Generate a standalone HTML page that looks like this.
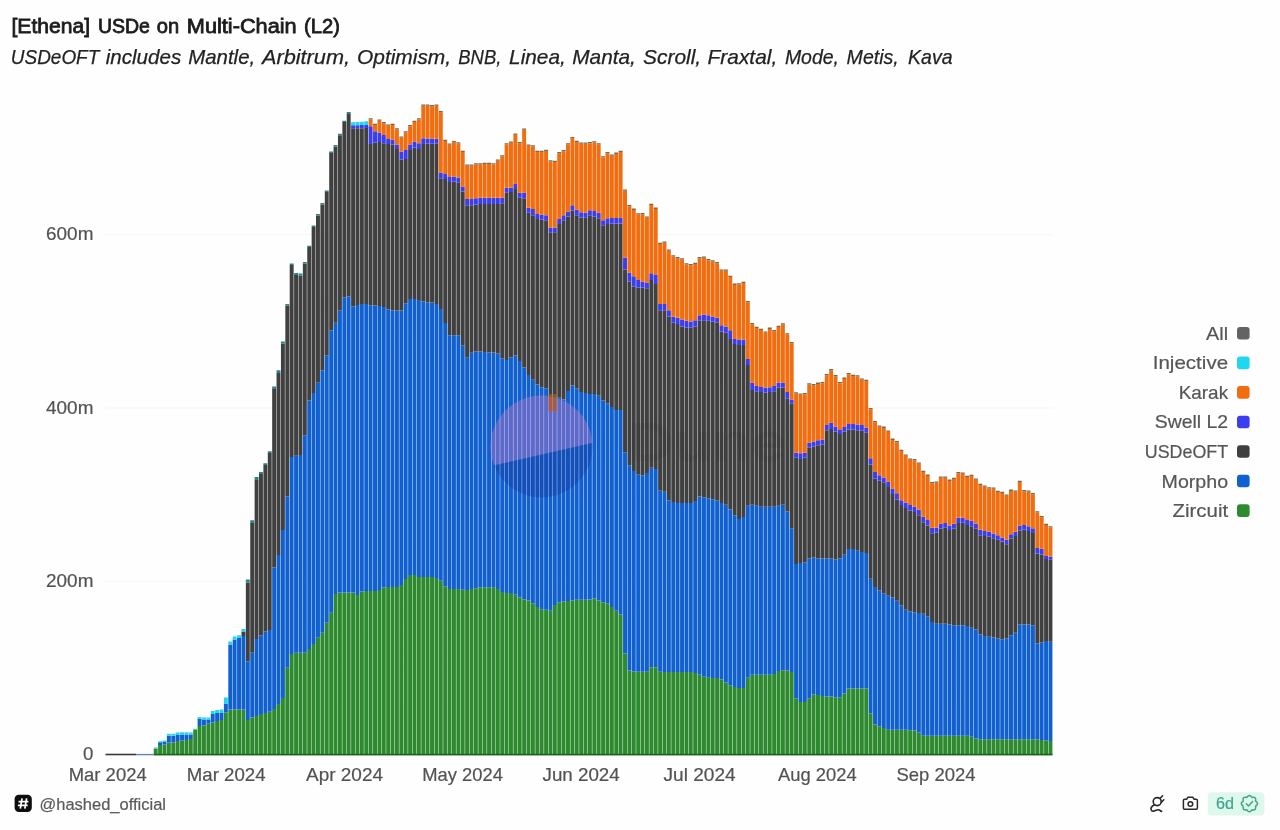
<!DOCTYPE html>
<html><head><meta charset="utf-8"><title>[Ethena] USDe on Multi-Chain (L2)</title>
<style>
html,body{margin:0;padding:0;background:#fff;}
body{width:1280px;height:830px;overflow:hidden;font-family:"Liberation Sans",sans-serif;}
svg{position:absolute;left:0;top:0;display:block}
text{font-family:"Liberation Sans",sans-serif;}
</style></head><body>
<svg width="1280" height="830" viewBox="0 0 1280 830">
<rect width="1280" height="830" fill="#fefefe"/>

<rect x="105" y="234.15" width="948" height="1" fill="#f6f6f6"/>
<rect x="105" y="407.50" width="948" height="1" fill="#f6f6f6"/>
<rect x="105" y="580.85" width="948" height="1" fill="#f6f6f6"/>
<g shape-rendering="geometricPrecision">
<path fill="#2e8a2e" d="M153.75 748.5h3.93V755.3h-3.93zM158.13 745.0h3.93V755.3h-3.93zM162.52 744.5h3.93V755.3h-3.93zM166.90 742.5h3.93V755.3h-3.93zM171.29 742.5h3.93V755.3h-3.93zM175.68 741.0h3.93V755.3h-3.93zM180.06 740.5h3.93V755.3h-3.93zM184.45 740.0h3.93V755.3h-3.93zM188.83 739.0h3.93V755.3h-3.93zM193.22 729.5h3.93V755.3h-3.93zM197.61 726.0h3.93V755.3h-3.93zM201.99 725.5h3.93V755.3h-3.93zM206.38 723.8h3.93V755.3h-3.93zM210.76 722.5h3.93V755.3h-3.93zM215.15 721.0h3.93V755.3h-3.93zM219.54 720.0h3.93V755.3h-3.93zM223.92 712.5h3.93V755.3h-3.93zM228.31 709.4h3.93V755.3h-3.93zM232.69 709.4h3.93V755.3h-3.93zM237.08 709.4h3.93V755.3h-3.93zM241.47 709.4h3.93V755.3h-3.93zM245.85 720.0h3.93V755.3h-3.93zM250.24 717.5h3.93V755.3h-3.93zM254.62 716.0h3.93V755.3h-3.93zM259.01 714.0h3.93V755.3h-3.93zM263.40 713.0h3.93V755.3h-3.93zM267.78 711.7h3.93V755.3h-3.93zM272.17 709.0h3.93V755.3h-3.93zM276.55 704.0h3.93V755.3h-3.93zM280.94 698.0h3.93V755.3h-3.93zM285.33 667.8h3.93V755.3h-3.93zM289.71 654.0h3.93V755.3h-3.93zM294.10 652.8h3.93V755.3h-3.93zM298.48 652.8h3.93V755.3h-3.93zM302.87 652.8h3.93V755.3h-3.93zM307.26 649.0h3.93V755.3h-3.93zM311.64 644.0h3.93V755.3h-3.93zM316.03 637.7h3.93V755.3h-3.93zM320.41 632.7h3.93V755.3h-3.93zM324.80 622.7h3.93V755.3h-3.93zM329.19 612.7h3.93V755.3h-3.93zM333.57 593.9h3.93V755.3h-3.93zM337.96 592.6h3.93V755.3h-3.93zM342.34 592.6h3.93V755.3h-3.93zM346.73 592.6h3.93V755.3h-3.93zM351.12 592.6h3.93V755.3h-3.93zM355.50 595.0h3.93V755.3h-3.93zM359.89 591.4h3.93V755.3h-3.93zM364.27 591.0h3.93V755.3h-3.93zM368.66 591.0h3.93V755.3h-3.93zM373.05 591.0h3.93V755.3h-3.93zM377.43 590.0h3.93V755.3h-3.93zM381.82 587.6h3.93V755.3h-3.93zM386.20 587.0h3.93V755.3h-3.93zM390.59 587.0h3.93V755.3h-3.93zM394.98 587.0h3.93V755.3h-3.93zM399.36 585.0h3.93V755.3h-3.93zM403.75 579.0h3.93V755.3h-3.93zM408.13 575.0h3.93V755.3h-3.93zM412.52 575.0h3.93V755.3h-3.93zM416.91 576.9h3.93V755.3h-3.93zM421.29 576.9h3.93V755.3h-3.93zM425.68 576.9h3.93V755.3h-3.93zM430.06 576.9h3.93V755.3h-3.93zM434.45 577.9h3.93V755.3h-3.93zM438.84 580.7h3.93V755.3h-3.93zM443.22 586.3h3.93V755.3h-3.93zM447.61 589.1h3.93V755.3h-3.93zM451.99 589.1h3.93V755.3h-3.93zM456.38 589.1h3.93V755.3h-3.93zM460.77 589.7h3.93V755.3h-3.93zM465.15 590.0h3.93V755.3h-3.93zM469.54 589.1h3.93V755.3h-3.93zM473.92 588.2h3.93V755.3h-3.93zM478.31 587.3h3.93V755.3h-3.93zM482.70 587.3h3.93V755.3h-3.93zM487.08 587.3h3.93V755.3h-3.93zM491.47 587.8h3.93V755.3h-3.93zM495.85 589.1h3.93V755.3h-3.93zM500.24 592.0h3.93V755.3h-3.93zM504.63 592.9h3.93V755.3h-3.93zM509.01 592.9h3.93V755.3h-3.93zM513.40 594.8h3.93V755.3h-3.93zM517.78 597.6h3.93V755.3h-3.93zM522.17 599.5h3.93V755.3h-3.93zM526.56 600.4h3.93V755.3h-3.93zM530.94 603.2h3.93V755.3h-3.93zM535.33 607.0h3.93V755.3h-3.93zM539.71 609.2h3.93V755.3h-3.93zM544.10 609.8h3.93V755.3h-3.93zM548.49 610.8h3.93V755.3h-3.93zM552.87 605.1h3.93V755.3h-3.93zM557.26 602.3h3.93V755.3h-3.93zM561.64 601.4h3.93V755.3h-3.93zM566.03 601.0h3.93V755.3h-3.93zM570.42 600.4h3.93V755.3h-3.93zM574.80 599.8h3.93V755.3h-3.93zM579.19 599.8h3.93V755.3h-3.93zM583.57 599.8h3.93V755.3h-3.93zM587.96 599.5h3.93V755.3h-3.93zM592.35 598.5h3.93V755.3h-3.93zM596.73 600.4h3.93V755.3h-3.93zM601.12 602.3h3.93V755.3h-3.93zM605.50 603.2h3.93V755.3h-3.93zM609.89 607.0h3.93V755.3h-3.93zM614.28 610.8h3.93V755.3h-3.93zM618.66 614.5h3.93V755.3h-3.93zM623.05 653.6h3.93V755.3h-3.93zM627.43 670.5h3.93V755.3h-3.93zM631.82 671.4h3.93V755.3h-3.93zM636.21 671.7h3.93V755.3h-3.93zM640.59 671.7h3.93V755.3h-3.93zM644.98 671.7h3.93V755.3h-3.93zM649.36 667.3h3.93V755.3h-3.93zM653.75 667.3h3.93V755.3h-3.93zM658.14 671.7h3.93V755.3h-3.93zM662.52 672.0h3.93V755.3h-3.93zM666.91 672.0h3.93V755.3h-3.93zM671.29 672.0h3.93V755.3h-3.93zM675.68 672.0h3.93V755.3h-3.93zM680.07 672.0h3.93V755.3h-3.93zM684.45 672.0h3.93V755.3h-3.93zM688.84 672.0h3.93V755.3h-3.93zM693.22 673.0h3.93V755.3h-3.93zM697.61 674.8h3.93V755.3h-3.93zM702.00 676.7h3.93V755.3h-3.93zM706.38 677.7h3.93V755.3h-3.93zM710.77 678.0h3.93V755.3h-3.93zM715.15 678.0h3.93V755.3h-3.93zM719.54 679.5h3.93V755.3h-3.93zM723.93 682.4h3.93V755.3h-3.93zM728.31 685.2h3.93V755.3h-3.93zM732.70 687.0h3.93V755.3h-3.93zM737.08 688.0h3.93V755.3h-3.93zM741.47 688.0h3.93V755.3h-3.93zM745.86 677.7h3.93V755.3h-3.93zM750.24 674.8h3.93V755.3h-3.93zM754.63 674.8h3.93V755.3h-3.93zM759.01 674.8h3.93V755.3h-3.93zM763.40 674.8h3.93V755.3h-3.93zM767.79 674.8h3.93V755.3h-3.93zM772.17 673.9h3.93V755.3h-3.93zM776.56 671.0h3.93V755.3h-3.93zM780.94 670.2h3.93V755.3h-3.93zM785.33 670.5h3.93V755.3h-3.93zM789.72 672.0h3.93V755.3h-3.93zM794.10 698.3h3.93V755.3h-3.93zM798.49 702.0h3.93V755.3h-3.93zM802.87 702.0h3.93V755.3h-3.93zM807.26 698.3h3.93V755.3h-3.93zM811.65 694.6h3.93V755.3h-3.93zM816.03 695.0h3.93V755.3h-3.93zM820.42 696.0h3.93V755.3h-3.93zM824.80 696.6h3.93V755.3h-3.93zM829.19 696.6h3.93V755.3h-3.93zM833.58 697.3h3.93V755.3h-3.93zM837.96 697.3h3.93V755.3h-3.93zM842.35 693.6h3.93V755.3h-3.93zM846.73 688.4h3.93V755.3h-3.93zM851.12 688.4h3.93V755.3h-3.93zM855.51 688.4h3.93V755.3h-3.93zM859.89 688.4h3.93V755.3h-3.93zM864.28 688.4h3.93V755.3h-3.93zM868.66 713.4h3.93V755.3h-3.93zM873.05 724.6h3.93V755.3h-3.93zM877.44 726.3h3.93V755.3h-3.93zM881.82 728.0h3.93V755.3h-3.93zM886.21 729.8h3.93V755.3h-3.93zM890.59 729.8h3.93V755.3h-3.93zM894.98 729.8h3.93V755.3h-3.93zM899.37 729.8h3.93V755.3h-3.93zM903.75 729.8h3.93V755.3h-3.93zM908.14 730.2h3.93V755.3h-3.93zM912.52 730.6h3.93V755.3h-3.93zM916.91 732.4h3.93V755.3h-3.93zM921.30 735.8h3.93V755.3h-3.93zM925.68 735.8h3.93V755.3h-3.93zM930.07 735.8h3.93V755.3h-3.93zM934.45 735.8h3.93V755.3h-3.93zM938.84 735.8h3.93V755.3h-3.93zM943.23 735.8h3.93V755.3h-3.93zM947.61 735.8h3.93V755.3h-3.93zM952.00 735.8h3.93V755.3h-3.93zM956.38 735.8h3.93V755.3h-3.93zM960.77 735.8h3.93V755.3h-3.93zM965.16 735.8h3.93V755.3h-3.93zM969.54 736.7h3.93V755.3h-3.93zM973.93 738.4h3.93V755.3h-3.93zM978.31 739.2h3.93V755.3h-3.93zM982.70 739.2h3.93V755.3h-3.93zM987.09 739.2h3.93V755.3h-3.93zM991.47 739.2h3.93V755.3h-3.93zM995.86 739.2h3.93V755.3h-3.93zM1000.24 739.2h3.93V755.3h-3.93zM1004.63 739.2h3.93V755.3h-3.93zM1009.02 739.2h3.93V755.3h-3.93zM1013.40 739.2h3.93V755.3h-3.93zM1017.79 739.2h3.93V755.3h-3.93zM1022.17 739.2h3.93V755.3h-3.93zM1026.56 739.2h3.93V755.3h-3.93zM1030.95 739.2h3.93V755.3h-3.93zM1035.33 739.6h3.93V755.3h-3.93zM1039.72 740.0h3.93V755.3h-3.93zM1044.10 740.6h3.93V755.3h-3.93zM1048.49 741.0h3.93V755.3h-3.93z"/>
<path fill="#1060d0" d="M158.13 742.3h3.93V745.0h-3.93zM162.52 741.6h3.93V744.5h-3.93zM166.90 735.8h3.93V742.5h-3.93zM171.29 735.8h3.93V742.5h-3.93zM175.68 735.0h3.93V741.0h-3.93zM180.06 734.5h3.93V740.5h-3.93zM184.45 734.5h3.93V740.0h-3.93zM188.83 734.5h3.93V739.0h-3.93zM197.61 718.8h3.93V726.0h-3.93zM201.99 719.4h3.93V725.5h-3.93zM206.38 719.4h3.93V723.8h-3.93zM210.76 714.0h3.93V722.5h-3.93zM215.15 713.0h3.93V721.0h-3.93zM219.54 712.4h3.93V720.0h-3.93zM223.92 704.0h3.93V712.5h-3.93zM228.31 644.5h3.93V709.4h-3.93zM232.69 639.5h3.93V709.4h-3.93zM237.08 638.0h3.93V709.4h-3.93zM241.47 636.0h3.93V709.4h-3.93zM245.85 661.5h3.93V720.0h-3.93zM250.24 652.8h3.93V717.5h-3.93zM254.62 639.0h3.93V716.0h-3.93zM259.01 635.2h3.93V714.0h-3.93zM263.40 631.5h3.93V713.0h-3.93zM267.78 630.0h3.93V711.7h-3.93zM272.17 567.5h3.93V709.0h-3.93zM276.55 555.0h3.93V704.0h-3.93zM280.94 530.0h3.93V698.0h-3.93zM285.33 496.4h3.93V667.8h-3.93zM289.71 457.0h3.93V654.0h-3.93zM294.10 455.7h3.93V652.8h-3.93zM298.48 455.0h3.93V652.8h-3.93zM302.87 435.3h3.93V652.8h-3.93zM307.26 400.4h3.93V649.0h-3.93zM311.64 392.9h3.93V644.0h-3.93zM316.03 382.8h3.93V637.7h-3.93zM320.41 370.3h3.93V632.7h-3.93zM324.80 355.3h3.93V622.7h-3.93zM329.19 330.2h3.93V612.7h-3.93zM333.57 322.7h3.93V593.9h-3.93zM337.96 310.2h3.93V592.6h-3.93zM342.34 297.6h3.93V592.6h-3.93zM346.73 296.4h3.93V592.6h-3.93zM351.12 306.4h3.93V592.6h-3.93zM355.50 305.1h3.93V595.0h-3.93zM359.89 303.9h3.93V591.4h-3.93zM364.27 303.9h3.93V591.0h-3.93zM368.66 305.3h3.93V591.0h-3.93zM373.05 305.6h3.93V591.0h-3.93zM377.43 306.0h3.93V590.0h-3.93zM381.82 306.9h3.93V587.6h-3.93zM386.20 309.5h3.93V587.0h-3.93zM390.59 310.4h3.93V587.0h-3.93zM394.98 310.4h3.93V587.0h-3.93zM399.36 310.4h3.93V585.0h-3.93zM403.75 303.2h3.93V579.0h-3.93zM408.13 298.9h3.93V575.0h-3.93zM412.52 298.9h3.93V575.0h-3.93zM416.91 300.0h3.93V576.9h-3.93zM421.29 301.4h3.93V576.9h-3.93zM425.68 302.6h3.93V576.9h-3.93zM430.06 302.6h3.93V576.9h-3.93zM434.45 303.9h3.93V577.9h-3.93zM438.84 309.0h3.93V580.7h-3.93zM443.22 323.0h3.93V586.3h-3.93zM447.61 335.2h3.93V589.1h-3.93zM451.99 335.2h3.93V589.1h-3.93zM456.38 335.2h3.93V589.1h-3.93zM460.77 345.2h3.93V589.7h-3.93zM465.15 357.8h3.93V590.0h-3.93zM469.54 352.8h3.93V589.1h-3.93zM473.92 351.5h3.93V588.2h-3.93zM478.31 351.5h3.93V587.3h-3.93zM482.70 352.0h3.93V587.3h-3.93zM487.08 352.6h3.93V587.3h-3.93zM491.47 352.6h3.93V587.8h-3.93zM495.85 353.5h3.93V589.1h-3.93zM500.24 358.2h3.93V592.0h-3.93zM504.63 360.0h3.93V592.9h-3.93zM509.01 357.3h3.93V592.9h-3.93zM513.40 355.4h3.93V594.8h-3.93zM517.78 361.0h3.93V597.6h-3.93zM522.17 367.6h3.93V599.5h-3.93zM526.56 375.1h3.93V600.4h-3.93zM530.94 379.8h3.93V603.2h-3.93zM535.33 384.5h3.93V607.0h-3.93zM539.71 387.3h3.93V609.2h-3.93zM544.10 388.3h3.93V609.8h-3.93zM548.49 411.0h3.93V610.8h-3.93zM552.87 411.0h3.93V605.1h-3.93zM557.26 397.7h3.93V602.3h-3.93zM561.64 399.5h3.93V601.4h-3.93zM566.03 391.1h3.93V601.0h-3.93zM570.42 385.5h3.93V600.4h-3.93zM574.80 388.3h3.93V599.8h-3.93zM579.19 392.0h3.93V599.8h-3.93zM583.57 393.0h3.93V599.8h-3.93zM587.96 393.9h3.93V599.5h-3.93zM592.35 393.9h3.93V598.5h-3.93zM596.73 395.8h3.93V600.4h-3.93zM601.12 400.5h3.93V602.3h-3.93zM605.50 403.3h3.93V603.2h-3.93zM609.89 407.0h3.93V607.0h-3.93zM614.28 409.9h3.93V610.8h-3.93zM618.66 409.9h3.93V614.5h-3.93zM623.05 452.2h3.93V653.6h-3.93zM627.43 465.3h3.93V670.5h-3.93zM631.82 471.0h3.93V671.4h-3.93zM636.21 474.7h3.93V671.7h-3.93zM640.59 475.2h3.93V671.7h-3.93zM644.98 472.9h3.93V671.7h-3.93zM649.36 467.7h3.93V667.3h-3.93zM653.75 469.1h3.93V667.3h-3.93zM658.14 490.8h3.93V671.7h-3.93zM662.52 491.7h3.93V672.0h-3.93zM666.91 500.2h3.93V672.0h-3.93zM671.29 502.0h3.93V672.0h-3.93zM675.68 503.0h3.93V672.0h-3.93zM680.07 503.0h3.93V672.0h-3.93zM684.45 503.0h3.93V672.0h-3.93zM688.84 503.0h3.93V672.0h-3.93zM693.22 501.1h3.93V673.0h-3.93zM697.61 496.4h3.93V674.8h-3.93zM702.00 497.3h3.93V676.7h-3.93zM706.38 498.3h3.93V677.7h-3.93zM710.77 499.2h3.93V678.0h-3.93zM715.15 500.2h3.93V678.0h-3.93zM719.54 503.0h3.93V679.5h-3.93zM723.93 504.8h3.93V682.4h-3.93zM728.31 509.5h3.93V685.2h-3.93zM732.70 515.2h3.93V687.0h-3.93zM737.08 518.9h3.93V688.0h-3.93zM741.47 517.1h3.93V688.0h-3.93zM745.86 505.8h3.93V677.7h-3.93zM750.24 504.8h3.93V674.8h-3.93zM754.63 505.8h3.93V674.8h-3.93zM759.01 506.7h3.93V674.8h-3.93zM763.40 506.7h3.93V674.8h-3.93zM767.79 506.7h3.93V674.8h-3.93zM772.17 506.7h3.93V673.9h-3.93zM776.56 505.8h3.93V671.0h-3.93zM780.94 504.8h3.93V670.2h-3.93zM785.33 511.4h3.93V670.5h-3.93zM789.72 528.3h3.93V672.0h-3.93zM794.10 564.0h3.93V698.3h-3.93zM798.49 563.1h3.93V702.0h-3.93zM802.87 562.2h3.93V702.0h-3.93zM807.26 558.4h3.93V698.3h-3.93zM811.65 557.5h3.93V694.6h-3.93zM816.03 558.4h3.93V695.0h-3.93zM820.42 558.4h3.93V696.0h-3.93zM824.80 558.4h3.93V696.6h-3.93zM829.19 558.4h3.93V696.6h-3.93zM833.58 559.4h3.93V697.3h-3.93zM837.96 558.4h3.93V697.3h-3.93zM842.35 554.7h3.93V693.6h-3.93zM846.73 549.0h3.93V688.4h-3.93zM851.12 549.0h3.93V688.4h-3.93zM855.51 550.8h3.93V688.4h-3.93zM859.89 552.0h3.93V688.4h-3.93zM864.28 553.0h3.93V688.4h-3.93zM868.66 578.8h3.93V713.4h-3.93zM873.05 587.1h3.93V724.6h-3.93zM877.44 590.5h3.93V726.3h-3.93zM881.82 593.3h3.93V728.0h-3.93zM886.21 595.8h3.93V729.8h-3.93zM890.59 597.4h3.93V729.8h-3.93zM894.98 600.7h3.93V729.8h-3.93zM899.37 605.6h3.93V729.8h-3.93zM903.75 609.7h3.93V729.8h-3.93zM908.14 611.4h3.93V730.2h-3.93zM912.52 612.2h3.93V730.6h-3.93zM916.91 613.0h3.93V732.4h-3.93zM921.30 613.8h3.93V735.8h-3.93zM925.68 616.3h3.93V735.8h-3.93zM930.07 622.0h3.93V735.8h-3.93zM934.45 623.7h3.93V735.8h-3.93zM938.84 623.7h3.93V735.8h-3.93zM943.23 623.7h3.93V735.8h-3.93zM947.61 624.5h3.93V735.8h-3.93zM952.00 625.3h3.93V735.8h-3.93zM956.38 625.3h3.93V735.8h-3.93zM960.77 625.3h3.93V735.8h-3.93zM965.16 626.1h3.93V735.8h-3.93zM969.54 627.8h3.93V736.7h-3.93zM973.93 629.4h3.93V738.4h-3.93zM978.31 634.3h3.93V739.2h-3.93zM982.70 636.0h3.93V739.2h-3.93zM987.09 636.8h3.93V739.2h-3.93zM991.47 637.6h3.93V739.2h-3.93zM995.86 638.4h3.93V739.2h-3.93zM1000.24 639.3h3.93V739.2h-3.93zM1004.63 638.4h3.93V739.2h-3.93zM1009.02 635.2h3.93V739.2h-3.93zM1013.40 632.7h3.93V739.2h-3.93zM1017.79 624.5h3.93V739.2h-3.93zM1022.17 624.5h3.93V739.2h-3.93zM1026.56 624.5h3.93V739.2h-3.93zM1030.95 625.3h3.93V739.2h-3.93zM1035.33 643.4h3.93V739.6h-3.93zM1039.72 642.5h3.93V740.0h-3.93zM1044.10 640.9h3.93V740.6h-3.93zM1048.49 641.7h3.93V741.0h-3.93z"/>
<path fill="#404040" d="M241.47 631.5h3.93V636.0h-3.93zM245.85 582.5h3.93V661.5h-3.93zM250.24 523.0h3.93V652.8h-3.93zM254.62 480.0h3.93V639.0h-3.93zM259.01 474.0h3.93V635.2h-3.93zM263.40 465.0h3.93V631.5h-3.93zM267.78 453.0h3.93V630.0h-3.93zM272.17 389.0h3.93V567.5h-3.93zM276.55 373.0h3.93V555.0h-3.93zM280.94 343.5h3.93V530.0h-3.93zM285.33 305.5h3.93V496.4h-3.93zM289.71 265.0h3.93V457.0h-3.93zM294.10 275.0h3.93V455.7h-3.93zM298.48 275.5h3.93V455.0h-3.93zM302.87 263.5h3.93V435.3h-3.93zM307.26 247.0h3.93V400.4h-3.93zM311.64 227.0h3.93V392.9h-3.93zM316.03 215.4h3.93V382.8h-3.93zM320.41 204.5h3.93V370.3h-3.93zM324.80 192.0h3.93V355.3h-3.93zM329.19 153.0h3.93V330.2h-3.93zM333.57 146.5h3.93V322.7h-3.93zM337.96 135.2h3.93V310.2h-3.93zM342.34 122.0h3.93V297.6h-3.93zM346.73 113.2h3.93V296.4h-3.93zM351.12 128.2h3.93V306.4h-3.93zM355.50 128.2h3.93V305.1h-3.93zM359.89 128.2h3.93V303.9h-3.93zM364.27 128.0h3.93V303.9h-3.93zM368.66 143.9h3.93V305.3h-3.93zM373.05 142.6h3.93V305.6h-3.93zM377.43 142.0h3.93V306.0h-3.93zM381.82 143.2h3.93V306.9h-3.93zM386.20 143.9h3.93V309.5h-3.93zM390.59 144.5h3.93V310.4h-3.93zM394.98 148.9h3.93V310.4h-3.93zM399.36 159.5h3.93V310.4h-3.93zM403.75 158.9h3.93V303.2h-3.93zM408.13 150.0h3.93V298.9h-3.93zM412.52 147.6h3.93V298.9h-3.93zM416.91 148.9h3.93V300.0h-3.93zM421.29 143.9h3.93V301.4h-3.93zM425.68 143.5h3.93V302.6h-3.93zM430.06 143.8h3.93V302.6h-3.93zM434.45 143.8h3.93V303.9h-3.93zM438.84 178.3h3.93V309.0h-3.93zM443.22 178.9h3.93V323.0h-3.93zM447.61 182.0h3.93V335.2h-3.93zM451.99 181.4h3.93V335.2h-3.93zM456.38 182.7h3.93V335.2h-3.93zM460.77 191.4h3.93V345.2h-3.93zM465.15 205.2h3.93V357.8h-3.93zM469.54 205.2h3.93V352.8h-3.93zM473.92 204.6h3.93V351.5h-3.93zM478.31 204.0h3.93V351.5h-3.93zM482.70 204.0h3.93V352.0h-3.93zM487.08 204.0h3.93V352.6h-3.93zM491.47 204.0h3.93V352.6h-3.93zM495.85 204.0h3.93V353.5h-3.93zM500.24 203.3h3.93V358.2h-3.93zM504.63 192.7h3.93V360.0h-3.93zM509.01 192.0h3.93V357.3h-3.93zM513.40 188.9h3.93V355.4h-3.93zM517.78 197.7h3.93V361.0h-3.93zM522.17 198.3h3.93V367.6h-3.93zM526.56 212.7h3.93V375.1h-3.93zM530.94 215.2h3.93V379.8h-3.93zM535.33 219.0h3.93V384.5h-3.93zM539.71 219.6h3.93V387.3h-3.93zM544.10 220.3h3.93V388.3h-3.93zM548.49 232.3h3.93V411.0h-3.93zM552.87 232.3h3.93V411.0h-3.93zM557.26 224.0h3.93V397.7h-3.93zM561.64 220.3h3.93V399.5h-3.93zM566.03 216.5h3.93V391.1h-3.93zM570.42 210.5h3.93V385.5h-3.93zM574.80 215.2h3.93V388.3h-3.93zM579.19 217.5h3.93V392.0h-3.93zM583.57 217.7h3.93V393.0h-3.93zM587.96 215.2h3.93V393.9h-3.93zM592.35 216.5h3.93V393.9h-3.93zM596.73 218.3h3.93V395.8h-3.93zM601.12 225.2h3.93V400.5h-3.93zM605.50 224.0h3.93V403.3h-3.93zM609.89 223.4h3.93V407.0h-3.93zM614.28 223.4h3.93V409.9h-3.93zM618.66 223.6h3.93V409.9h-3.93zM623.05 269.5h3.93V452.2h-3.93zM627.43 281.4h3.93V465.3h-3.93zM631.82 286.4h3.93V471.0h-3.93zM636.21 287.6h3.93V474.7h-3.93zM640.59 287.6h3.93V475.2h-3.93zM644.98 288.2h3.93V472.9h-3.93zM649.36 280.0h3.93V467.7h-3.93zM653.75 283.9h3.93V469.1h-3.93zM658.14 310.2h3.93V490.8h-3.93zM662.52 310.2h3.93V491.7h-3.93zM666.91 316.4h3.93V500.2h-3.93zM671.29 322.7h3.93V502.0h-3.93zM675.68 324.0h3.93V503.0h-3.93zM680.07 326.5h3.93V503.0h-3.93zM684.45 327.7h3.93V503.0h-3.93zM688.84 327.7h3.93V503.0h-3.93zM693.22 326.5h3.93V501.1h-3.93zM697.61 320.8h3.93V496.4h-3.93zM702.00 320.2h3.93V497.3h-3.93zM706.38 320.8h3.93V498.3h-3.93zM710.77 321.5h3.93V499.2h-3.93zM715.15 322.7h3.93V500.2h-3.93zM719.54 331.5h3.93V503.0h-3.93zM723.93 332.7h3.93V504.8h-3.93zM728.31 339.0h3.93V509.5h-3.93zM732.70 344.0h3.93V515.2h-3.93zM737.08 345.0h3.93V518.9h-3.93zM741.47 345.0h3.93V517.1h-3.93zM745.86 365.0h3.93V505.8h-3.93zM750.24 390.0h3.93V504.8h-3.93zM754.63 391.3h3.93V505.8h-3.93zM759.01 392.0h3.93V506.7h-3.93zM763.40 392.6h3.93V506.7h-3.93zM767.79 392.0h3.93V506.7h-3.93zM772.17 391.3h3.93V506.7h-3.93zM776.56 387.5h3.93V505.8h-3.93zM780.94 387.5h3.93V504.8h-3.93zM785.33 398.8h3.93V511.4h-3.93zM789.72 403.8h3.93V528.3h-3.93zM794.10 457.7h3.93V564.0h-3.93zM798.49 459.0h3.93V563.1h-3.93zM802.87 457.7h3.93V562.2h-3.93zM807.26 447.7h3.93V558.4h-3.93zM811.65 446.4h3.93V557.5h-3.93zM816.03 445.2h3.93V558.4h-3.93zM820.42 444.6h3.93V558.4h-3.93zM824.80 430.2h3.93V558.4h-3.93zM829.19 428.9h3.93V558.4h-3.93zM833.58 431.4h3.93V559.4h-3.93zM837.96 433.9h3.93V558.4h-3.93zM842.35 431.4h3.93V554.7h-3.93zM846.73 429.5h3.93V549.0h-3.93zM851.12 429.5h3.93V549.0h-3.93zM855.51 430.2h3.93V550.8h-3.93zM859.89 430.8h3.93V552.0h-3.93zM864.28 432.7h3.93V553.0h-3.93zM868.66 464.5h3.93V578.8h-3.93zM873.05 478.4h3.93V587.1h-3.93zM877.44 480.7h3.93V590.5h-3.93zM881.82 482.3h3.93V593.3h-3.93zM886.21 487.0h3.93V595.8h-3.93zM890.59 494.0h3.93V597.4h-3.93zM894.98 499.5h3.93V600.7h-3.93zM899.37 505.0h3.93V605.6h-3.93zM903.75 508.1h3.93V609.7h-3.93zM908.14 510.5h3.93V611.4h-3.93zM912.52 512.0h3.93V612.2h-3.93zM916.91 515.2h3.93V613.0h-3.93zM921.30 522.2h3.93V613.8h-3.93zM925.68 525.4h3.93V616.3h-3.93zM930.07 533.2h3.93V622.0h-3.93zM934.45 532.4h3.93V623.7h-3.93zM938.84 528.5h3.93V623.7h-3.93zM943.23 527.7h3.93V623.7h-3.93zM947.61 530.0h3.93V624.5h-3.93zM952.00 528.5h3.93V625.3h-3.93zM956.38 523.0h3.93V625.3h-3.93zM960.77 522.8h3.93V625.3h-3.93zM965.16 525.0h3.93V626.1h-3.93zM969.54 526.2h3.93V627.8h-3.93zM973.93 528.8h3.93V629.4h-3.93zM978.31 535.2h3.93V634.3h-3.93zM982.70 536.0h3.93V636.0h-3.93zM987.09 536.6h3.93V636.8h-3.93zM991.47 538.2h3.93V637.6h-3.93zM995.86 539.8h3.93V638.4h-3.93zM1000.24 541.6h3.93V639.3h-3.93zM1004.63 544.2h3.93V638.4h-3.93zM1009.02 538.5h3.93V635.2h-3.93zM1013.40 536.0h3.93V632.7h-3.93zM1017.79 530.5h3.93V624.5h-3.93zM1022.17 529.6h3.93V624.5h-3.93zM1026.56 531.0h3.93V624.5h-3.93zM1030.95 533.0h3.93V625.3h-3.93zM1035.33 553.5h3.93V643.4h-3.93zM1039.72 554.5h3.93V642.5h-3.93zM1044.10 559.0h3.93V640.9h-3.93zM1048.49 559.8h3.93V641.7h-3.93z"/>
<path fill="#3d3df0" d="M351.12 125.3h3.93V128.2h-3.93zM355.50 125.2h3.93V128.2h-3.93zM359.89 125.1h3.93V128.2h-3.93zM364.27 125.0h3.93V128.0h-3.93zM368.66 126.3h3.93V143.9h-3.93zM373.05 131.3h3.93V142.6h-3.93zM377.43 132.6h3.93V142.0h-3.93zM381.82 135.1h3.93V143.2h-3.93zM386.20 138.9h3.93V143.9h-3.93zM390.59 139.5h3.93V144.5h-3.93zM394.98 144.5h3.93V148.9h-3.93zM399.36 151.4h3.93V159.5h-3.93zM403.75 150.1h3.93V158.9h-3.93zM408.13 144.5h3.93V150.0h-3.93zM412.52 141.4h3.93V147.6h-3.93zM416.91 143.2h3.93V148.9h-3.93zM421.29 138.2h3.93V143.9h-3.93zM425.68 138.5h3.93V143.5h-3.93zM430.06 138.8h3.93V143.8h-3.93zM434.45 138.8h3.93V143.8h-3.93zM438.84 172.6h3.93V178.3h-3.93zM443.22 173.9h3.93V178.9h-3.93zM447.61 177.0h3.93V182.0h-3.93zM451.99 176.4h3.93V181.4h-3.93zM456.38 177.6h3.93V182.7h-3.93zM460.77 186.4h3.93V191.4h-3.93zM465.15 198.9h3.93V205.2h-3.93zM469.54 198.9h3.93V205.2h-3.93zM473.92 198.3h3.93V204.6h-3.93zM478.31 197.7h3.93V204.0h-3.93zM482.70 197.7h3.93V204.0h-3.93zM487.08 197.7h3.93V204.0h-3.93zM491.47 197.7h3.93V204.0h-3.93zM495.85 197.7h3.93V204.0h-3.93zM500.24 197.7h3.93V203.3h-3.93zM504.63 187.7h3.93V192.7h-3.93zM509.01 187.7h3.93V192.0h-3.93zM513.40 183.9h3.93V188.9h-3.93zM517.78 192.7h3.93V197.7h-3.93zM522.17 192.7h3.93V198.3h-3.93zM526.56 207.7h3.93V212.7h-3.93zM530.94 209.0h3.93V215.2h-3.93zM535.33 214.0h3.93V219.0h-3.93zM539.71 214.6h3.93V219.6h-3.93zM544.10 215.2h3.93V220.3h-3.93zM548.49 227.5h3.93V232.3h-3.93zM552.87 227.5h3.93V232.3h-3.93zM557.26 219.0h3.93V224.0h-3.93zM561.64 215.2h3.93V220.3h-3.93zM566.03 211.5h3.93V216.5h-3.93zM570.42 205.2h3.93V210.5h-3.93zM574.80 209.8h3.93V215.2h-3.93zM579.19 212.3h3.93V217.5h-3.93zM583.57 212.7h3.93V217.7h-3.93zM587.96 210.2h3.93V215.2h-3.93zM592.35 211.0h3.93V216.5h-3.93zM596.73 212.7h3.93V218.3h-3.93zM601.12 220.2h3.93V225.2h-3.93zM605.50 218.3h3.93V224.0h-3.93zM609.89 217.9h3.93V223.4h-3.93zM614.28 217.9h3.93V223.4h-3.93zM618.66 217.9h3.93V223.6h-3.93zM623.05 257.6h3.93V269.5h-3.93zM627.43 272.6h3.93V281.4h-3.93zM631.82 276.3h3.93V286.4h-3.93zM636.21 280.0h3.93V287.6h-3.93zM640.59 281.4h3.93V287.6h-3.93zM644.98 282.6h3.93V288.2h-3.93zM649.36 273.2h3.93V280.0h-3.93zM653.75 275.0h3.93V283.9h-3.93zM658.14 303.9h3.93V310.2h-3.93zM662.52 303.9h3.93V310.2h-3.93zM666.91 310.2h3.93V316.4h-3.93zM671.29 316.4h3.93V322.7h-3.93zM675.68 317.7h3.93V324.0h-3.93zM680.07 319.6h3.93V326.5h-3.93zM684.45 320.8h3.93V327.7h-3.93zM688.84 321.5h3.93V327.7h-3.93zM693.22 320.2h3.93V326.5h-3.93zM697.61 315.2h3.93V320.8h-3.93zM702.00 314.6h3.93V320.2h-3.93zM706.38 315.2h3.93V320.8h-3.93zM710.77 316.4h3.93V321.5h-3.93zM715.15 317.7h3.93V322.7h-3.93zM719.54 325.2h3.93V331.5h-3.93zM723.93 326.5h3.93V332.7h-3.93zM728.31 330.2h3.93V339.0h-3.93zM732.70 339.0h3.93V344.0h-3.93zM737.08 339.5h3.93V345.0h-3.93zM741.47 339.5h3.93V345.0h-3.93zM745.86 359.0h3.93V365.0h-3.93zM750.24 382.6h3.93V390.0h-3.93zM754.63 386.0h3.93V391.3h-3.93zM759.01 386.9h3.93V392.0h-3.93zM763.40 387.5h3.93V392.6h-3.93zM767.79 387.2h3.93V392.0h-3.93zM772.17 386.0h3.93V391.3h-3.93zM776.56 382.5h3.93V387.5h-3.93zM780.94 382.5h3.93V387.5h-3.93zM785.33 392.0h3.93V398.8h-3.93zM789.72 399.4h3.93V403.8h-3.93zM794.10 452.7h3.93V457.7h-3.93zM798.49 453.3h3.93V459.0h-3.93zM802.87 452.7h3.93V457.7h-3.93zM807.26 442.7h3.93V447.7h-3.93zM811.65 441.4h3.93V446.4h-3.93zM816.03 440.2h3.93V445.2h-3.93zM820.42 439.5h3.93V444.6h-3.93zM824.80 425.1h3.93V430.2h-3.93zM829.19 422.6h3.93V428.9h-3.93zM833.58 426.4h3.93V431.4h-3.93zM837.96 430.0h3.93V433.9h-3.93zM842.35 427.0h3.93V431.4h-3.93zM846.73 423.9h3.93V429.5h-3.93zM851.12 423.9h3.93V429.5h-3.93zM855.51 424.5h3.93V430.2h-3.93zM859.89 425.1h3.93V430.8h-3.93zM864.28 427.6h3.93V432.7h-3.93zM868.66 458.3h3.93V464.5h-3.93zM873.05 472.1h3.93V478.4h-3.93zM877.44 475.2h3.93V480.7h-3.93zM881.82 477.6h3.93V482.3h-3.93zM886.21 481.5h3.93V487.0h-3.93zM890.59 488.6h3.93V494.0h-3.93zM894.98 493.2h3.93V499.5h-3.93zM899.37 500.3h3.93V505.0h-3.93zM903.75 502.6h3.93V508.1h-3.93zM908.14 505.0h3.93V510.5h-3.93zM912.52 506.6h3.93V512.0h-3.93zM916.91 509.7h3.93V515.2h-3.93zM921.30 516.7h3.93V522.2h-3.93zM925.68 519.9h3.93V525.4h-3.93zM930.07 527.7h3.93V533.2h-3.93zM934.45 527.7h3.93V532.4h-3.93zM938.84 523.8h3.93V528.5h-3.93zM943.23 523.0h3.93V527.7h-3.93zM947.61 525.4h3.93V530.0h-3.93zM952.00 523.8h3.93V528.5h-3.93zM956.38 517.5h3.93V523.0h-3.93zM960.77 517.7h3.93V522.8h-3.93zM965.16 519.9h3.93V525.0h-3.93zM969.54 520.7h3.93V526.2h-3.93zM973.93 523.7h3.93V528.8h-3.93zM978.31 529.7h3.93V535.2h-3.93zM982.70 530.9h3.93V536.0h-3.93zM987.09 531.8h3.93V536.6h-3.93zM991.47 533.5h3.93V538.2h-3.93zM995.86 535.3h3.93V539.8h-3.93zM1000.24 537.4h3.93V541.6h-3.93zM1004.63 539.7h3.93V544.2h-3.93zM1009.02 534.3h3.93V538.5h-3.93zM1013.40 531.7h3.93V536.0h-3.93zM1017.79 525.4h3.93V530.5h-3.93zM1022.17 525.0h3.93V529.6h-3.93zM1026.56 526.2h3.93V531.0h-3.93zM1030.95 528.3h3.93V533.0h-3.93zM1035.33 548.0h3.93V553.5h-3.93zM1039.72 548.8h3.93V554.5h-3.93zM1044.10 555.9h3.93V559.0h-3.93zM1048.49 556.7h3.93V559.8h-3.93z"/>
<path fill="#f26c10" d="M368.66 119.5h3.93V126.3h-3.93zM373.05 125.1h3.93V131.3h-3.93zM377.43 120.7h3.93V132.6h-3.93zM381.82 123.3h3.93V135.1h-3.93zM386.20 125.7h3.93V138.9h-3.93zM390.59 125.1h3.93V139.5h-3.93zM394.98 129.5h3.93V144.5h-3.93zM399.36 137.7h3.93V151.4h-3.93zM403.75 132.6h3.93V150.1h-3.93zM408.13 126.3h3.93V144.5h-3.93zM412.52 122.0h3.93V141.4h-3.93zM416.91 119.5h3.93V143.2h-3.93zM421.29 105.7h3.93V138.2h-3.93zM425.68 105.7h3.93V138.5h-3.93zM430.06 106.3h3.93V138.8h-3.93zM434.45 105.7h3.93V138.8h-3.93zM438.84 112.2h3.93V172.6h-3.93zM443.22 141.1h3.93V173.9h-3.93zM447.61 144.8h3.93V177.0h-3.93zM451.99 142.3h3.93V176.4h-3.93zM456.38 143.5h3.93V177.6h-3.93zM460.77 152.0h3.93V186.4h-3.93zM465.15 165.8h3.93V198.9h-3.93zM469.54 165.8h3.93V198.9h-3.93zM473.92 164.6h3.93V198.3h-3.93zM478.31 164.6h3.93V197.7h-3.93zM482.70 164.1h3.93V197.7h-3.93zM487.08 164.1h3.93V197.7h-3.93zM491.47 164.5h3.93V197.7h-3.93zM495.85 160.8h3.93V197.7h-3.93zM500.24 156.5h3.93V197.7h-3.93zM504.63 144.5h3.93V187.7h-3.93zM509.01 142.8h3.93V187.7h-3.93zM513.40 134.8h3.93V183.9h-3.93zM517.78 143.2h3.93V192.7h-3.93zM522.17 129.8h3.93V192.7h-3.93zM526.56 145.7h3.93V207.7h-3.93zM530.94 146.6h3.93V209.0h-3.93zM535.33 152.0h3.93V214.0h-3.93zM539.71 152.0h3.93V214.6h-3.93zM544.10 151.1h3.93V215.2h-3.93zM548.49 161.6h3.93V227.5h-3.93zM552.87 162.0h3.93V227.5h-3.93zM557.26 153.3h3.93V219.0h-3.93zM561.64 151.3h3.93V215.2h-3.93zM566.03 144.5h3.93V211.5h-3.93zM570.42 138.2h3.93V205.2h-3.93zM574.80 142.0h3.93V209.8h-3.93zM579.19 143.8h3.93V212.3h-3.93zM583.57 143.8h3.93V212.7h-3.93zM587.96 143.2h3.93V210.2h-3.93zM592.35 142.6h3.93V211.0h-3.93zM596.73 144.5h3.93V212.7h-3.93zM601.12 157.6h3.93V220.2h-3.93zM605.50 153.2h3.93V218.3h-3.93zM609.89 155.7h3.93V217.9h-3.93zM614.28 153.9h3.93V217.9h-3.93zM618.66 152.0h3.93V217.9h-3.93zM623.05 190.7h3.93V257.6h-3.93zM627.43 206.2h3.93V272.6h-3.93zM631.82 209.9h3.93V276.3h-3.93zM636.21 214.5h3.93V280.0h-3.93zM640.59 214.3h3.93V281.4h-3.93zM644.98 217.7h3.93V282.6h-3.93zM649.36 205.1h3.93V273.2h-3.93zM653.75 208.9h3.93V275.0h-3.93zM658.14 244.0h3.93V303.9h-3.93zM662.52 242.7h3.93V303.9h-3.93zM666.91 250.8h3.93V310.2h-3.93zM671.29 256.5h3.93V316.4h-3.93zM675.68 258.4h3.93V317.7h-3.93zM680.07 259.6h3.93V319.6h-3.93zM684.45 264.6h3.93V320.8h-3.93zM688.84 265.3h3.93V321.5h-3.93zM693.22 264.0h3.93V320.2h-3.93zM697.61 258.4h3.93V315.2h-3.93zM702.00 257.7h3.93V314.6h-3.93zM706.38 260.2h3.93V315.2h-3.93zM710.77 261.5h3.93V316.4h-3.93zM715.15 263.4h3.93V317.7h-3.93zM719.54 270.8h3.93V325.2h-3.93zM723.93 270.8h3.93V326.5h-3.93zM728.31 277.1h3.93V330.2h-3.93zM732.70 284.9h3.93V339.0h-3.93zM737.08 284.5h3.93V339.5h-3.93zM741.47 283.1h3.93V339.5h-3.93zM745.86 302.3h3.93V359.0h-3.93zM750.24 324.3h3.93V382.6h-3.93zM754.63 328.1h3.93V386.0h-3.93zM759.01 330.1h3.93V386.9h-3.93zM763.40 332.7h3.93V387.5h-3.93zM767.79 328.9h3.93V387.2h-3.93zM772.17 331.3h3.93V386.0h-3.93zM776.56 327.0h3.93V382.5h-3.93zM780.94 324.5h3.93V382.5h-3.93zM785.33 334.5h3.93V392.0h-3.93zM789.72 343.3h3.93V399.4h-3.93zM794.10 393.6h3.93V452.7h-3.93zM798.49 394.8h3.93V453.3h-3.93zM802.87 394.3h3.93V452.7h-3.93zM807.26 384.6h3.93V442.7h-3.93zM811.65 385.3h3.93V441.4h-3.93zM816.03 383.9h3.93V440.2h-3.93zM820.42 383.3h3.93V439.5h-3.93zM824.80 375.2h3.93V425.1h-3.93zM829.19 370.3h3.93V422.6h-3.93zM833.58 376.4h3.93V426.4h-3.93zM837.96 383.3h3.93V430.0h-3.93zM842.35 378.9h3.93V427.0h-3.93zM846.73 374.2h3.93V423.9h-3.93zM851.12 376.1h3.93V423.9h-3.93zM855.51 376.6h3.93V424.5h-3.93zM859.89 379.8h3.93V425.1h-3.93zM864.28 381.1h3.93V427.6h-3.93zM868.66 409.3h3.93V458.3h-3.93zM873.05 422.3h3.93V472.1h-3.93zM877.44 426.7h3.93V475.2h-3.93zM881.82 427.9h3.93V477.6h-3.93zM886.21 431.8h3.93V481.5h-3.93zM890.59 439.9h3.93V488.6h-3.93zM894.98 442.3h3.93V493.2h-3.93zM899.37 451.1h3.93V500.3h-3.93zM903.75 455.8h3.93V502.6h-3.93zM908.14 459.7h3.93V505.0h-3.93zM912.52 460.3h3.93V506.6h-3.93zM916.91 463.8h3.93V509.7h-3.93zM921.30 472.1h3.93V516.7h-3.93zM925.68 475.9h3.93V519.9h-3.93zM930.07 483.4h3.93V527.7h-3.93zM934.45 482.8h3.93V527.7h-3.93zM938.84 477.7h3.93V523.8h-3.93zM943.23 477.7h3.93V523.0h-3.93zM947.61 480.9h3.93V525.4h-3.93zM952.00 479.0h3.93V523.8h-3.93zM956.38 473.3h3.93V517.5h-3.93zM960.77 473.8h3.93V517.7h-3.93zM965.16 477.0h3.93V519.9h-3.93zM969.54 476.0h3.93V520.7h-3.93zM973.93 479.7h3.93V523.7h-3.93zM978.31 485.1h3.93V529.7h-3.93zM982.70 486.7h3.93V530.9h-3.93zM987.09 488.6h3.93V531.8h-3.93zM991.47 488.8h3.93V533.5h-3.93zM995.86 492.1h3.93V535.3h-3.93zM1000.24 493.1h3.93V537.4h-3.93zM1004.63 495.8h3.93V539.7h-3.93zM1009.02 490.9h3.93V534.3h-3.93zM1013.40 491.8h3.93V531.7h-3.93zM1017.79 482.1h3.93V525.4h-3.93zM1022.17 491.3h3.93V525.0h-3.93zM1026.56 491.8h3.93V526.2h-3.93zM1030.95 494.3h3.93V528.3h-3.93zM1035.33 512.6h3.93V548.0h-3.93zM1039.72 517.3h3.93V548.8h-3.93zM1044.10 525.0h3.93V555.9h-3.93zM1048.49 527.5h3.93V556.7h-3.93z"/>
<path fill="#22d6ee" d="M153.75 747.5h3.93V748.5h-3.93zM158.13 741.3h3.93V742.3h-3.93zM162.52 740.6h3.93V741.6h-3.93zM166.90 733.8h3.93V735.8h-3.93zM171.29 733.8h3.93V735.8h-3.93zM175.68 732.5h3.93V735.0h-3.93zM180.06 732.3h3.93V734.5h-3.93zM184.45 732.3h3.93V734.5h-3.93zM188.83 732.5h3.93V734.5h-3.93zM193.22 728.8h3.93V729.5h-3.93zM197.61 716.9h3.93V718.8h-3.93zM201.99 717.5h3.93V719.4h-3.93zM206.38 717.5h3.93V719.4h-3.93zM210.76 711.0h3.93V714.0h-3.93zM215.15 710.0h3.93V713.0h-3.93zM219.54 709.4h3.93V712.4h-3.93zM223.92 697.5h3.93V704.0h-3.93zM228.31 641.5h3.93V644.5h-3.93zM232.69 636.5h3.93V639.5h-3.93zM237.08 635.2h3.93V638.0h-3.93zM241.47 629.0h3.93V631.5h-3.93zM351.12 122.3h3.93V125.3h-3.93zM355.50 122.0h3.93V125.2h-3.93zM359.89 121.8h3.93V125.1h-3.93zM364.27 121.3h3.93V125.0h-3.93z"/>
<path fill="#2a8587" d="M245.85 579.6h3.93V582.5h-3.93zM250.24 520.2h3.93V523.0h-3.93zM254.62 477.0h3.93V480.0h-3.93zM259.01 472.0h3.93V474.0h-3.93zM263.40 463.2h3.93V465.0h-3.93zM267.78 451.3h3.93V453.0h-3.93zM272.17 386.6h3.93V389.0h-3.93zM276.55 370.3h3.93V373.0h-3.93zM280.94 341.5h3.93V343.5h-3.93zM285.33 303.9h3.93V305.5h-3.93zM289.71 263.5h3.93V265.0h-3.93zM294.10 272.9h3.93V275.0h-3.93zM298.48 273.6h3.93V275.5h-3.93zM302.87 262.0h3.93V263.5h-3.93zM307.26 245.8h3.93V247.0h-3.93zM311.64 225.5h3.93V227.0h-3.93zM316.03 213.9h3.93V215.4h-3.93zM320.41 203.0h3.93V204.5h-3.93zM324.80 190.4h3.93V192.0h-3.93zM329.19 151.4h3.93V153.0h-3.93zM333.57 145.1h3.93V146.5h-3.93zM337.96 133.8h3.93V135.2h-3.93zM342.34 120.7h3.93V122.0h-3.93zM346.73 111.9h3.93V113.2h-3.93z"/>
<path fill="#7a6a45" d="M368.66 118.2h3.93V119.5h-3.93zM373.05 123.8h3.93V125.1h-3.93zM377.43 119.4h3.93V120.7h-3.93zM381.82 122.0h3.93V123.3h-3.93zM386.20 124.4h3.93V125.7h-3.93zM390.59 123.8h3.93V125.1h-3.93zM394.98 128.2h3.93V129.5h-3.93zM399.36 136.4h3.93V137.7h-3.93zM403.75 131.3h3.93V132.6h-3.93zM408.13 125.0h3.93V126.3h-3.93zM412.52 120.7h3.93V122.0h-3.93zM416.91 118.2h3.93V119.5h-3.93zM421.29 104.4h3.93V105.7h-3.93zM425.68 104.4h3.93V105.7h-3.93zM430.06 105.0h3.93V106.3h-3.93zM434.45 104.4h3.93V105.7h-3.93zM438.84 110.9h3.93V112.2h-3.93zM443.22 139.8h3.93V141.1h-3.93zM447.61 143.5h3.93V144.8h-3.93zM451.99 141.0h3.93V142.3h-3.93zM456.38 142.2h3.93V143.5h-3.93zM460.77 150.7h3.93V152.0h-3.93zM465.15 164.5h3.93V165.8h-3.93zM469.54 164.5h3.93V165.8h-3.93zM473.92 163.3h3.93V164.6h-3.93zM478.31 163.3h3.93V164.6h-3.93zM482.70 162.8h3.93V164.1h-3.93zM487.08 162.8h3.93V164.1h-3.93zM491.47 163.2h3.93V164.5h-3.93zM495.85 159.5h3.93V160.8h-3.93zM500.24 155.2h3.93V156.5h-3.93zM504.63 143.2h3.93V144.5h-3.93zM509.01 141.5h3.93V142.8h-3.93zM513.40 133.5h3.93V134.8h-3.93zM517.78 141.9h3.93V143.2h-3.93zM522.17 128.5h3.93V129.8h-3.93zM526.56 144.4h3.93V145.7h-3.93zM530.94 145.3h3.93V146.6h-3.93zM535.33 150.7h3.93V152.0h-3.93zM539.71 150.7h3.93V152.0h-3.93zM544.10 149.8h3.93V151.1h-3.93zM548.49 160.3h3.93V161.6h-3.93zM552.87 160.7h3.93V162.0h-3.93zM557.26 152.0h3.93V153.3h-3.93zM561.64 150.0h3.93V151.3h-3.93zM566.03 143.2h3.93V144.5h-3.93zM570.42 136.9h3.93V138.2h-3.93zM574.80 140.7h3.93V142.0h-3.93zM579.19 142.5h3.93V143.8h-3.93zM583.57 142.5h3.93V143.8h-3.93zM587.96 141.9h3.93V143.2h-3.93zM592.35 141.3h3.93V142.6h-3.93zM596.73 143.2h3.93V144.5h-3.93zM601.12 156.3h3.93V157.6h-3.93zM605.50 151.9h3.93V153.2h-3.93zM609.89 154.4h3.93V155.7h-3.93zM614.28 152.6h3.93V153.9h-3.93zM618.66 150.7h3.93V152.0h-3.93zM623.05 189.4h3.93V190.7h-3.93zM627.43 204.9h3.93V206.2h-3.93zM631.82 208.6h3.93V209.9h-3.93zM636.21 213.2h3.93V214.5h-3.93zM640.59 213.0h3.93V214.3h-3.93zM644.98 216.4h3.93V217.7h-3.93zM649.36 203.8h3.93V205.1h-3.93zM653.75 207.6h3.93V208.9h-3.93zM658.14 242.7h3.93V244.0h-3.93zM662.52 241.4h3.93V242.7h-3.93zM666.91 249.5h3.93V250.8h-3.93zM671.29 255.2h3.93V256.5h-3.93zM675.68 257.1h3.93V258.4h-3.93zM680.07 258.3h3.93V259.6h-3.93zM684.45 263.3h3.93V264.6h-3.93zM688.84 264.0h3.93V265.3h-3.93zM693.22 262.7h3.93V264.0h-3.93zM697.61 257.1h3.93V258.4h-3.93zM702.00 256.4h3.93V257.7h-3.93zM706.38 258.9h3.93V260.2h-3.93zM710.77 260.2h3.93V261.5h-3.93zM715.15 262.1h3.93V263.4h-3.93zM719.54 269.5h3.93V270.8h-3.93zM723.93 269.5h3.93V270.8h-3.93zM728.31 275.8h3.93V277.1h-3.93zM732.70 283.6h3.93V284.9h-3.93zM737.08 283.2h3.93V284.5h-3.93zM741.47 281.8h3.93V283.1h-3.93zM745.86 301.0h3.93V302.3h-3.93zM750.24 323.0h3.93V324.3h-3.93zM754.63 326.8h3.93V328.1h-3.93zM759.01 328.8h3.93V330.1h-3.93zM763.40 331.4h3.93V332.7h-3.93zM767.79 327.6h3.93V328.9h-3.93zM772.17 330.0h3.93V331.3h-3.93zM776.56 325.7h3.93V327.0h-3.93zM780.94 323.2h3.93V324.5h-3.93zM785.33 333.2h3.93V334.5h-3.93zM789.72 342.0h3.93V343.3h-3.93zM794.10 392.3h3.93V393.6h-3.93zM798.49 393.5h3.93V394.8h-3.93zM802.87 393.0h3.93V394.3h-3.93zM807.26 383.3h3.93V384.6h-3.93zM811.65 384.0h3.93V385.3h-3.93zM816.03 382.6h3.93V383.9h-3.93zM820.42 382.0h3.93V383.3h-3.93zM824.80 373.9h3.93V375.2h-3.93zM829.19 369.0h3.93V370.3h-3.93zM833.58 375.1h3.93V376.4h-3.93zM837.96 382.0h3.93V383.3h-3.93zM842.35 377.6h3.93V378.9h-3.93zM846.73 372.9h3.93V374.2h-3.93zM851.12 374.8h3.93V376.1h-3.93zM855.51 375.3h3.93V376.6h-3.93zM859.89 378.5h3.93V379.8h-3.93zM864.28 379.8h3.93V381.1h-3.93zM868.66 408.0h3.93V409.3h-3.93zM873.05 421.0h3.93V422.3h-3.93zM877.44 425.4h3.93V426.7h-3.93zM881.82 426.6h3.93V427.9h-3.93zM886.21 430.5h3.93V431.8h-3.93zM890.59 438.6h3.93V439.9h-3.93zM894.98 441.0h3.93V442.3h-3.93zM899.37 449.8h3.93V451.1h-3.93zM903.75 454.5h3.93V455.8h-3.93zM908.14 458.4h3.93V459.7h-3.93zM912.52 459.0h3.93V460.3h-3.93zM916.91 462.5h3.93V463.8h-3.93zM921.30 470.8h3.93V472.1h-3.93zM925.68 474.6h3.93V475.9h-3.93zM930.07 482.1h3.93V483.4h-3.93zM934.45 481.5h3.93V482.8h-3.93zM938.84 476.4h3.93V477.7h-3.93zM943.23 476.4h3.93V477.7h-3.93zM947.61 479.6h3.93V480.9h-3.93zM952.00 477.7h3.93V479.0h-3.93zM956.38 472.0h3.93V473.3h-3.93zM960.77 472.5h3.93V473.8h-3.93zM965.16 475.7h3.93V477.0h-3.93zM969.54 474.7h3.93V476.0h-3.93zM973.93 478.4h3.93V479.7h-3.93zM978.31 483.8h3.93V485.1h-3.93zM982.70 485.4h3.93V486.7h-3.93zM987.09 487.3h3.93V488.6h-3.93zM991.47 487.5h3.93V488.8h-3.93zM995.86 490.8h3.93V492.1h-3.93zM1000.24 491.8h3.93V493.1h-3.93zM1004.63 494.5h3.93V495.8h-3.93zM1009.02 489.6h3.93V490.9h-3.93zM1013.40 490.5h3.93V491.8h-3.93zM1017.79 480.8h3.93V482.1h-3.93zM1022.17 490.0h3.93V491.3h-3.93zM1026.56 490.5h3.93V491.8h-3.93zM1030.95 493.0h3.93V494.3h-3.93zM1035.33 511.3h3.93V512.6h-3.93zM1039.72 516.0h3.93V517.3h-3.93zM1044.10 523.7h3.93V525.0h-3.93zM1048.49 526.2h3.93V527.5h-3.93z"/>
</g>
<rect x="153.7" y="753.8" width="898.7" height="1.5" fill="#1c641c"/>
<rect x="105.5" y="753.7" width="30.7" height="1.6" fill="#3a3a3a"/>
<rect x="136.2" y="753.9" width="17.5" height="1.4" fill="#5f87bd"/>
<g id="legend">
<rect x="1237" y="327" width="12.6" height="12.6" rx="3" fill="#636363"/>
<rect x="1237" y="356.55" width="12.6" height="12.6" rx="3" fill="#1fd8f0"/>
<rect x="1237" y="386.1" width="12.6" height="12.6" rx="3" fill="#f26c10"/>
<rect x="1237" y="415.65" width="12.6" height="12.6" rx="3" fill="#3d3df0"/>
<rect x="1237" y="445.2" width="12.6" height="12.6" rx="3" fill="#3f3f3f"/>
<rect x="1237" y="474.75" width="12.6" height="12.6" rx="3" fill="#1060d0"/>
<rect x="1237" y="504.3" width="12.6" height="12.6" rx="3" fill="#2e8a2e"/>
</g>
<g id="watermark">
<clipPath id="wmc"><circle cx="541.5" cy="446.5" r="51"/></clipPath>
<g clip-path="url(#wmc)">
<path d="M480 468.55 L600 441.05 L600 390 L480 390 Z" fill="#d87dc3" opacity="0.38"/>
<path d="M480 468.55 L600 441.05 L600 520 L480 520 Z" fill="#1e1870" opacity="0.2"/>
</g>
<rect x="548.3" y="394" width="8.6" height="17.5" fill="#c8642a" opacity="0.5"/>
<text x="628" y="461" font-size="56" font-weight="700" fill="#202020" opacity="0.07" textLength="158" lengthAdjust="spacingAndGlyphs">Dune</text>
</g>
<g id="footer-icons">
<rect x="14.6" y="794.8" width="17.2" height="17.2" rx="4.2" fill="#0d0d0d"/>
<g stroke="#fff" stroke-width="1.7" stroke-linecap="butt" fill="none">
<path d="M22.1 798.3 L20.3 808.6 M26.6 798.3 L24.8 808.6 M18.6 801.6 H28.4 M17.9 805.3 H27.7"/>
</g>
<!-- plug icon -->
<g stroke="#262626" stroke-width="1.6" fill="none" stroke-linecap="round" stroke-linejoin="round">
<circle cx="1157.2" cy="801.6" r="4.0"/>
<path d="M1160.2 798.2 L1162.6 795.8 M1161.4 802.2 L1163.8 799.8"/>
<path d="M1154.6 804.8 C1151.6 806.2 1149.8 808.6 1151.6 810.6 C1153.4 812.4 1156.0 809.6 1158.4 809.8 C1160.0 810.0 1160.6 811.2 1161.6 811.4"/>
</g>
<!-- camera icon -->
<g stroke="#2b2b2b" stroke-width="1.5" fill="none" stroke-linejoin="round">
<path d="M1184.6 799.2 H1186.6 L1188.0 797.3 H1192.8 L1194.2 799.2 H1196.2 Q1197.4 799.2 1197.4 800.4 V808.0 Q1197.4 809.2 1196.2 809.2 H1184.6 Q1183.4 809.2 1183.4 808.0 V800.4 Q1183.4 799.2 1184.6 799.2 Z"/>
<circle cx="1190.4" cy="804.0" r="2.3"/>
</g>
<!-- pill -->
<rect x="1207.8" y="792.2" width="56.6" height="23.4" rx="4" fill="#dff8ee"/>
<g stroke="#3aa887" stroke-width="1.5" fill="none" stroke-linejoin="round" stroke-linecap="round">
<path d="M1246.84 797.41Q1249.40 793.47 1251.96 797.41Q1256.56 796.44 1255.59 801.04Q1259.53 803.60 1255.59 806.16Q1256.56 810.76 1251.96 809.79Q1249.40 813.73 1246.84 809.79Q1242.24 810.76 1243.21 806.16Q1239.27 803.60 1243.21 801.04Q1242.24 796.44 1246.84 797.41Z"/>
<path d="M1246.3 803.8 L1248.5 806.0 L1252.6 801.6"/>
</g>
</g>

</svg>
<svg width="1280" height="830" viewBox="0 0 1280 830" style="will-change:transform;transform:translateZ(0)">
<g id="texts" opacity="0.999">
<text id="t_title0" x="11.50" y="32.5" font-size="20.5" fill="#1c1c1c" textLength="78.7" lengthAdjust="spacingAndGlyphs" font-weight="400" stroke="#1c1c1c" stroke-width="0.8">[Ethena]</text>
<text id="t_title1" x="97.90" y="32.5" font-size="20.5" fill="#1c1c1c" textLength="52" lengthAdjust="spacingAndGlyphs" font-weight="400" stroke="#1c1c1c" stroke-width="0.8">USDe</text>
<text id="t_title2" x="156.70" y="32.5" font-size="20.5" fill="#1c1c1c" textLength="22.4" lengthAdjust="spacingAndGlyphs" font-weight="400" stroke="#1c1c1c" stroke-width="0.8">on</text>
<text id="t_title3" x="186.80" y="32.5" font-size="20.5" fill="#1c1c1c" textLength="109.9" lengthAdjust="spacingAndGlyphs" font-weight="400" stroke="#1c1c1c" stroke-width="0.8">Multi-Chain</text>
<text id="t_title4" x="304.10" y="32.5" font-size="20.5" fill="#1c1c1c" textLength="35.8" lengthAdjust="spacingAndGlyphs" font-weight="400" stroke="#1c1c1c" stroke-width="0.8">(L2)</text>
<text id="t_sub0" x="10.80" y="64" font-size="20.4" fill="#222" textLength="88.5" lengthAdjust="spacingAndGlyphs" font-style="italic" stroke="#222" stroke-width="0.25">USDeOFT</text>
<text id="t_sub1" x="105.70" y="64" font-size="20.4" fill="#222" textLength="75.5" lengthAdjust="spacingAndGlyphs" font-style="italic" stroke="#222" stroke-width="0.25">includes</text>
<text id="t_sub2" x="188.20" y="64" font-size="20.4" fill="#222" textLength="67" lengthAdjust="spacingAndGlyphs" font-style="italic" stroke="#222" stroke-width="0.25">Mantle,</text>
<text id="t_sub3" x="262.00" y="64" font-size="20.4" fill="#222" textLength="88" lengthAdjust="spacingAndGlyphs" font-style="italic" stroke="#222" stroke-width="0.25">Arbitrum,</text>
<text id="t_sub4" x="357.00" y="64" font-size="20.4" fill="#222" textLength="94.1" lengthAdjust="spacingAndGlyphs" font-style="italic" stroke="#222" stroke-width="0.25">Optimism,</text>
<text id="t_sub5" x="458.30" y="64" font-size="20.4" fill="#222" textLength="43.1" lengthAdjust="spacingAndGlyphs" font-style="italic" stroke="#222" stroke-width="0.25">BNB,</text>
<text id="t_sub6" x="509.10" y="64" font-size="20.4" fill="#222" textLength="56.7" lengthAdjust="spacingAndGlyphs" font-style="italic" stroke="#222" stroke-width="0.25">Linea,</text>
<text id="t_sub7" x="572.20" y="64" font-size="20.4" fill="#222" textLength="63.7" lengthAdjust="spacingAndGlyphs" font-style="italic" stroke="#222" stroke-width="0.25">Manta,</text>
<text id="t_sub8" x="643.10" y="64" font-size="20.4" fill="#222" textLength="58" lengthAdjust="spacingAndGlyphs" font-style="italic" stroke="#222" stroke-width="0.25">Scroll,</text>
<text id="t_sub9" x="707.60" y="64" font-size="20.4" fill="#222" textLength="69.6" lengthAdjust="spacingAndGlyphs" font-style="italic" stroke="#222" stroke-width="0.25">Fraxtal,</text>
<text id="t_sub10" x="784.90" y="64" font-size="20.4" fill="#222" textLength="54.1" lengthAdjust="spacingAndGlyphs" font-style="italic" stroke="#222" stroke-width="0.25">Mode,</text>
<text id="t_sub11" x="846.60" y="64" font-size="20.4" fill="#222" textLength="52.2" lengthAdjust="spacingAndGlyphs" font-style="italic" stroke="#222" stroke-width="0.25">Metis,</text>
<text id="t_sub12" x="908.10" y="64" font-size="20.4" fill="#222" textLength="44.4" lengthAdjust="spacingAndGlyphs" font-style="italic" stroke="#222" stroke-width="0.25">Kava</text>
<text id="t_y600" x="46.10" y="240.4" font-size="18.5" fill="#525252" textLength="47.3" lengthAdjust="spacingAndGlyphs"  stroke="#525252" stroke-width="0.2">600m</text>
<text id="t_y400" x="46.10" y="413.7" font-size="18.5" fill="#525252" textLength="47.3" lengthAdjust="spacingAndGlyphs"  stroke="#525252" stroke-width="0.2">400m</text>
<text id="t_y200" x="46.10" y="587.0" font-size="18.5" fill="#525252" textLength="47.3" lengthAdjust="spacingAndGlyphs"  stroke="#525252" stroke-width="0.2">200m</text>
<text id="t_y0" x="83.00" y="760.4" font-size="18.5" fill="#525252" textLength="10.4" lengthAdjust="spacingAndGlyphs"  stroke="#525252" stroke-width="0.2">0</text>
<text id="t_x0" x="68.70" y="781.4" font-size="18.2" fill="#525252" textLength="78" lengthAdjust="spacingAndGlyphs"  stroke="#525252" stroke-width="0.2">Mar 2024</text>
<text id="t_x1" x="186.85" y="781.4" font-size="18.2" fill="#525252" textLength="78.7" lengthAdjust="spacingAndGlyphs"  stroke="#525252" stroke-width="0.2">Mar 2024</text>
<text id="t_x2" x="306.00" y="781.4" font-size="18.2" fill="#525252" textLength="77" lengthAdjust="spacingAndGlyphs"  stroke="#525252" stroke-width="0.2">Apr 2024</text>
<text id="t_x3" x="422.25" y="781.4" font-size="18.2" fill="#525252" textLength="80.7" lengthAdjust="spacingAndGlyphs"  stroke="#525252" stroke-width="0.2">May 2024</text>
<text id="t_x4" x="542.50" y="781.4" font-size="18.2" fill="#525252" textLength="77.2" lengthAdjust="spacingAndGlyphs"  stroke="#525252" stroke-width="0.2">Jun 2024</text>
<text id="t_x5" x="663.60" y="781.4" font-size="18.2" fill="#525252" textLength="72" lengthAdjust="spacingAndGlyphs"  stroke="#525252" stroke-width="0.2">Jul 2024</text>
<text id="t_x6" x="778.05" y="781.4" font-size="18.2" fill="#525252" textLength="78.7" lengthAdjust="spacingAndGlyphs"  stroke="#525252" stroke-width="0.2">Aug 2024</text>
<text id="t_x7" x="896.45" y="781.4" font-size="18.2" fill="#525252" textLength="79.1" lengthAdjust="spacingAndGlyphs"  stroke="#525252" stroke-width="0.2">Sep 2024</text>
<text id="t_l0" x="1206.10" y="339.8" font-size="18.4" fill="#565656" textLength="22" lengthAdjust="spacingAndGlyphs"  stroke="#565656" stroke-width="0.2">All</text>
<text id="t_l1" x="1152.70" y="369.35" font-size="18.4" fill="#565656" textLength="75.4" lengthAdjust="spacingAndGlyphs"  stroke="#565656" stroke-width="0.2">Injective</text>
<text id="t_l2" x="1178.70" y="398.9" font-size="18.4" fill="#565656" textLength="49.4" lengthAdjust="spacingAndGlyphs"  stroke="#565656" stroke-width="0.2">Karak</text>
<text id="t_l3" x="1154.70" y="428.45" font-size="18.4" fill="#565656" textLength="73.4" lengthAdjust="spacingAndGlyphs"  stroke="#565656" stroke-width="0.2">Swell L2</text>
<text id="t_l4" x="1144.80" y="458.0" font-size="18.4" fill="#565656" textLength="83.3" lengthAdjust="spacingAndGlyphs"  stroke="#565656" stroke-width="0.2">USDeOFT</text>
<text id="t_l5" x="1161.60" y="487.55" font-size="18.4" fill="#565656" textLength="66.5" lengthAdjust="spacingAndGlyphs"  stroke="#565656" stroke-width="0.2">Morpho</text>
<text id="t_l6" x="1172.50" y="517.1" font-size="18.4" fill="#565656" textLength="55.6" lengthAdjust="spacingAndGlyphs"  stroke="#565656" stroke-width="0.2">Zircuit</text>
<text id="t_foot" x="39.50" y="809.6" font-size="16.3" fill="#5a5a5a" textLength="126.5" lengthAdjust="spacingAndGlyphs"  stroke="#5a5a5a" stroke-width="0.2">@hashed_official</text>
<text id="t_6d" x="1216.00" y="809.4" font-size="16" fill="#3aa887" textLength="18" lengthAdjust="spacingAndGlyphs"  stroke="#3aa887" stroke-width="0.2">6d</text>
</g>

</svg></body></html>
